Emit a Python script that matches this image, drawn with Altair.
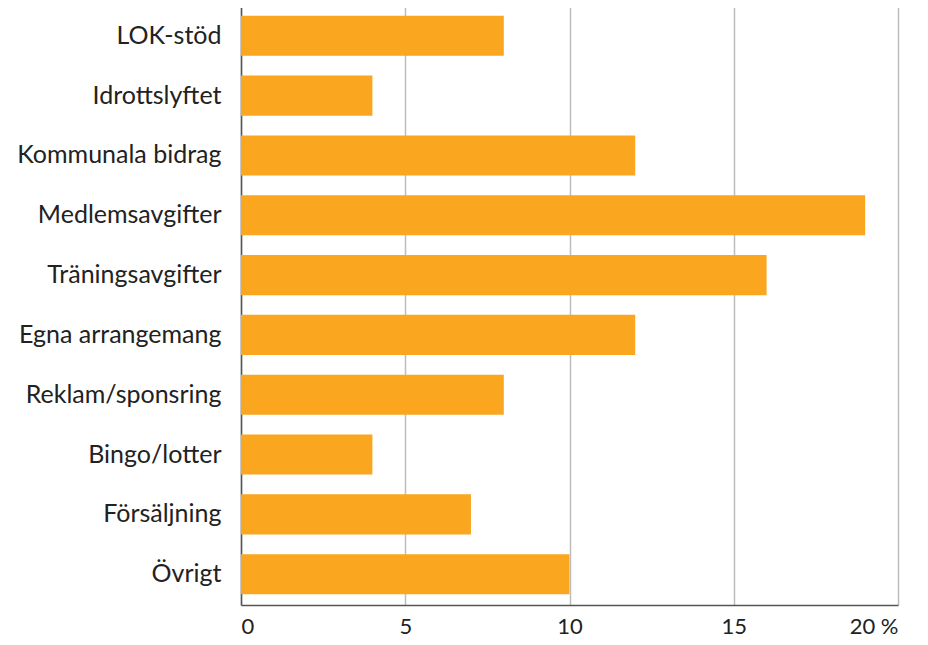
import altair as alt
import pandas as pd

categories = ["LOK-stöd", "Idrottslyftet", "Kommunala bidrag", "Medlemsavgifter",
              "Träningsavgifter", "Egna arrangemang", "Reklam/sponsring",
              "Bingo/lotter", "Försäljning", "Övrigt"]
values = [8, 4, 12, 19, 16, 12, 8, 4, 7, 10]
x_ticks = [0, 5, 10, 15, 20]

df = pd.DataFrame({"category": categories, "value": values})

FONT = "Lato"

chart = alt.Chart(df).mark_bar(color="#FAA61F").encode(
    x=alt.X("value:Q",
            scale=alt.Scale(domain=[0, 20], nice=False),
            axis=alt.Axis(values=x_ticks, title=None, grid=True,
                          gridColor="#BDBDBD", gridWidth=1.5,
                          domainColor="#555555", domainWidth=1.5,
                          ticks=False, labelPadding=28, labelBaseline="alphabetic",
                          labelFont=FONT, labelFontSize=22, labelColor="#222222",
                          labelExpr="datum.value == 20 ? '20 %' : datum.label")),
    y=alt.Y("category:N", sort=categories,
            scale=alt.Scale(paddingInner=0.33, paddingOuter=0.18),
            axis=alt.Axis(title=None, ticks=False, labelPadding=20,
                          domainColor="#555555", domainWidth=1.5,
                          labelFont=FONT, labelFontSize=25, labelColor="#222222",
                          labelLimit=400)),
).properties(
    width=657, height=600,
    autosize=alt.AutoSizeParams(type="none"),
    padding={"left": 233, "top": -3, "right": 20, "bottom": 32},
).configure_view(stroke=None)

chart.save("out.html", embed_options={"renderer": "svg", "actions": False})
